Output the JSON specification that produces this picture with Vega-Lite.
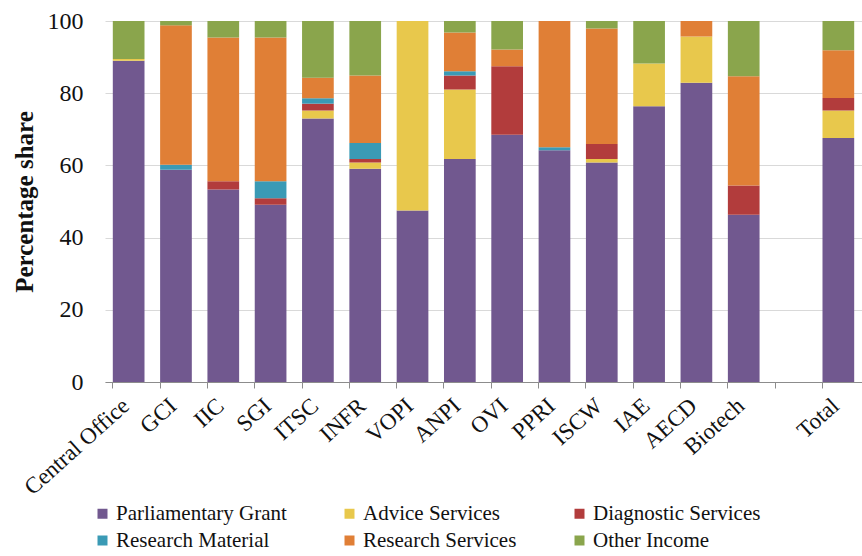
{
  "$schema": "https://vega.github.io/schema/vega-lite/v6.json",
  "width": 757,
  "height": 361,
  "autosize": {"type": "none"},
  "padding": {"left": 105, "top": 21, "right": 0, "bottom": 174},
  "background": "white",
  "config": {
    "font": "Liberation Serif",
    "view": {"stroke": null},
    "legend": {"labelFont": "Liberation Serif, Times New Roman, serif", "labelFontSize": 21}
  },
  "data": {
    "values": [
      {"org": "Central Office", "source": "Parliamentary Grant", "share": 89.0},
      {"org": "Central Office", "source": "Advice Services", "share": 0.5},
      {"org": "Central Office", "source": "Other Income", "share": 10.5},
      {"org": "GCI", "source": "Parliamentary Grant", "share": 58.8},
      {"org": "GCI", "source": "Research Material", "share": 1.4},
      {"org": "GCI", "source": "Research Services", "share": 38.6},
      {"org": "GCI", "source": "Other Income", "share": 1.2},
      {"org": "IIC", "source": "Parliamentary Grant", "share": 53.3},
      {"org": "IIC", "source": "Diagnostic Services", "share": 2.3},
      {"org": "IIC", "source": "Research Services", "share": 39.8},
      {"org": "IIC", "source": "Other Income", "share": 4.6},
      {"org": "SGI", "source": "Parliamentary Grant", "share": 49.1},
      {"org": "SGI", "source": "Diagnostic Services", "share": 1.8},
      {"org": "SGI", "source": "Research Material", "share": 4.7},
      {"org": "SGI", "source": "Research Services", "share": 39.8},
      {"org": "SGI", "source": "Other Income", "share": 4.6},
      {"org": "ITSC", "source": "Parliamentary Grant", "share": 73.0},
      {"org": "ITSC", "source": "Advice Services", "share": 2.2},
      {"org": "ITSC", "source": "Diagnostic Services", "share": 1.9},
      {"org": "ITSC", "source": "Research Material", "share": 1.5},
      {"org": "ITSC", "source": "Research Services", "share": 5.7},
      {"org": "ITSC", "source": "Other Income", "share": 15.7},
      {"org": "INFR", "source": "Parliamentary Grant", "share": 59.1},
      {"org": "INFR", "source": "Advice Services", "share": 1.7},
      {"org": "INFR", "source": "Diagnostic Services", "share": 1.0},
      {"org": "INFR", "source": "Research Material", "share": 4.4},
      {"org": "INFR", "source": "Research Services", "share": 18.7},
      {"org": "INFR", "source": "Other Income", "share": 15.1},
      {"org": "VOPI", "source": "Parliamentary Grant", "share": 47.5},
      {"org": "VOPI", "source": "Advice Services", "share": 52.5},
      {"org": "ANPI", "source": "Parliamentary Grant", "share": 61.8},
      {"org": "ANPI", "source": "Advice Services", "share": 19.2},
      {"org": "ANPI", "source": "Diagnostic Services", "share": 3.9},
      {"org": "ANPI", "source": "Research Material", "share": 1.2},
      {"org": "ANPI", "source": "Research Services", "share": 10.7},
      {"org": "ANPI", "source": "Other Income", "share": 3.2},
      {"org": "OVI", "source": "Parliamentary Grant", "share": 68.5},
      {"org": "OVI", "source": "Diagnostic Services", "share": 19.0},
      {"org": "OVI", "source": "Research Services", "share": 4.6},
      {"org": "OVI", "source": "Other Income", "share": 7.9},
      {"org": "PPRI", "source": "Parliamentary Grant", "share": 64.2},
      {"org": "PPRI", "source": "Research Material", "share": 0.8},
      {"org": "PPRI", "source": "Research Services", "share": 35.0},
      {"org": "ISCW", "source": "Parliamentary Grant", "share": 60.8},
      {"org": "ISCW", "source": "Advice Services", "share": 1.0},
      {"org": "ISCW", "source": "Diagnostic Services", "share": 4.1},
      {"org": "ISCW", "source": "Research Services", "share": 32.0},
      {"org": "ISCW", "source": "Other Income", "share": 2.1},
      {"org": "IAE", "source": "Parliamentary Grant", "share": 76.4},
      {"org": "IAE", "source": "Advice Services", "share": 11.8},
      {"org": "IAE", "source": "Other Income", "share": 11.8},
      {"org": "AECD", "source": "Parliamentary Grant", "share": 82.9},
      {"org": "AECD", "source": "Advice Services", "share": 12.8},
      {"org": "AECD", "source": "Research Services", "share": 4.3},
      {"org": "Biotech", "source": "Parliamentary Grant", "share": 46.3},
      {"org": "Biotech", "source": "Diagnostic Services", "share": 8.1},
      {"org": "Biotech", "source": "Research Services", "share": 30.3},
      {"org": "Biotech", "source": "Other Income", "share": 15.3},
      {"org": "Total", "source": "Parliamentary Grant", "share": 67.6},
      {"org": "Total", "source": "Advice Services", "share": 7.6},
      {"org": "Total", "source": "Diagnostic Services", "share": 3.5},
      {"org": "Total", "source": "Research Services", "share": 13.2},
      {"org": "Total", "source": "Other Income", "share": 8.1}
    ]
  },
  "transform": [
    {"calculate": "indexof(['Parliamentary Grant', 'Advice Services', 'Diagnostic Services', 'Research Material', 'Research Services', 'Other Income'], datum.source)", "as": "stackIndex"}
  ],
  "mark": {"type": "bar"},
  "encoding": {
    "x": {
      "field": "org",
      "type": "nominal",
      "scale": {
        "domain": ["Central Office", "GCI", "IIC", "SGI", "ITSC", "INFR", "VOPI", "ANPI", "OVI", "PPRI", "ISCW", "IAE", "AECD", "Biotech", " ", "Total"],
        "paddingInner": 0.33,
        "paddingOuter": 0.165
      },
      "axis": {
        "title": null,
        "labelAngle": -42,
        "labelFontSize": 23,
        "labelColor": "#111",
        "labelFont": "Liberation Serif",
        "labelPadding": 6,
        "bandPosition": 0,
        "labelOffset": -10,
        "domainColor": "#8c8c8c",
        "tickColor": "#8c8c8c",
        "tickSize": 6,
        "grid": false
      }
    },
    "y": {
      "field": "share",
      "type": "quantitative",
      "stack": "zero",
      "scale": {"domain": [0, 100], "nice": false},
      "axis": {
        "title": "Percentage share",
        "titleFontSize": 25,
        "titleFontWeight": "bold",
        "titleFont": "Liberation Serif",
        "titleColor": "#111",
        "titlePadding": 10,
        "values": [0, 20, 40, 60, 80, 100],
        "labelFontSize": 24,
        "labelColor": "#111",
        "labelFont": "Liberation Serif",
        "labelPadding": 22,
        "ticks": false,
        "domain": false,
        "grid": true,
        "gridColor": "#d9d9d9",
        "gridWidth": 1
      }
    },
    "order": {"field": "stackIndex", "type": "quantitative", "sort": "ascending"},
    "color": {
      "field": "source",
      "type": "nominal",
      "sort": ["Parliamentary Grant", "Advice Services", "Diagnostic Services", "Research Material", "Research Services", "Other Income"],
      "scale": {
        "domain": ["Parliamentary Grant", "Advice Services", "Diagnostic Services", "Research Material", "Research Services", "Other Income"],
        "range": ["#71588f", "#e8c84c", "#b23c3c", "#3a9ab5", "#e07f36", "#8aa54c"]
      },
      "legend": {
        "title": null,
        "orient": "none",
        "legendX": -13,
        "legendY": 482,
        "columns": 3,
        "direction": "horizontal",
        "symbolType": "square",
        "symbolSize": 100,
        "symbolStrokeWidth": 0,
        "labelFontSize": 21,
        "labelFont": "Liberation Serif, Times New Roman, serif",
        "labelColor": "#111",
        "labelOffset": 3,
        "labelLimit": 400,
        "columnPadding": 52,
        "rowPadding": 5
      }
    }
  }
}
